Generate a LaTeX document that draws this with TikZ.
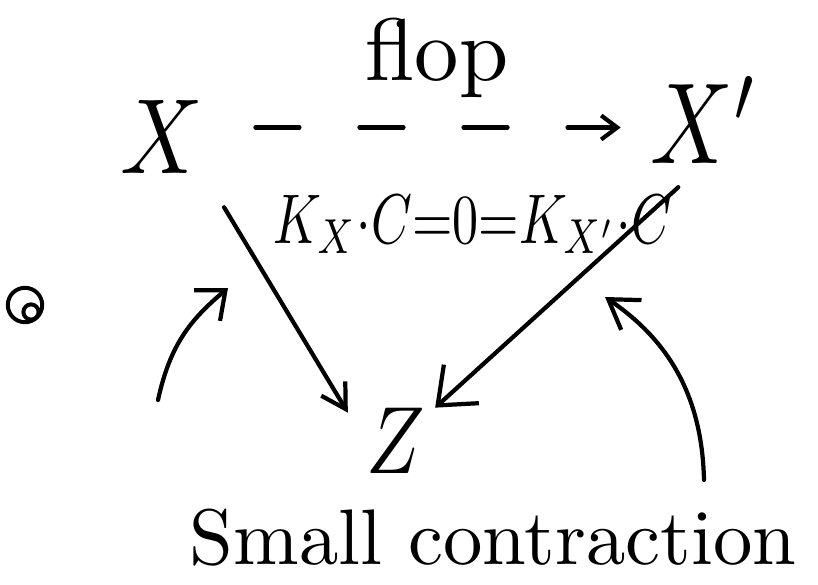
\documentclass[tikz,border=0pt]{standalone}
\usepackage{amsmath}
\usepackage{tikz}
\usetikzlibrary{arrows.meta, positioning, calc}

\begin{document}
\begin{tikzpicture}[
      x=0.025cm, y=-0.025cm, line cap=round, line join=round,
      >={Straight Barb[length=0.6cm, width=0.7cm]},
      lbl/.style={inner sep=0pt, outer sep=0pt},
      arr/.style={->, line width=3pt},
      dasharr/.style={arr, dash pattern=on 1.1cm off 1.5cm}
    ]
      \useasboundingbox (0,0) rectangle (818,585);
      \node[lbl, xscale=6.5, yscale=7.6, anchor=base] (X)  at (162,173) {$X$};
      \node[lbl, xscale=6.5, yscale=8.2, anchor=base] (Xp) at (705,163) {$X'$};
      \node[lbl, xscale=5.5, yscale=6.8, anchor=base] (Z)  at (396,473) {$Z$};
      \node[lbl, xscale=3.7, yscale=5, anchor=base west] (KC) at (273,243)
           {${K_X}{\cdot}C{=}0{=}K_{X'}{\cdot}C$};
      \node[lbl, scale=6.3, anchor=base] (flop)  at (437,80)  {flop};
      \node[lbl, scale=5.6, anchor=base] (small) at (493,564) {Small contraction};
      \draw[dasharr, >={Straight Barb[length=0.4cm, width=0.6cm]},
            shorten <=1.3cm, shorten >=0.75cm]
           ($(X.east)+(0,-9)$) -- ($(X.east -| Xp.west)+(0,-9)$);
      \draw[arr, shorten <=1cm] (X.south east) -- ($(Z.north west)+(-19,5)$);
      \draw[arr, >={Straight Barb[length=0.8cm, width=1.3cm]}, shorten <=0.9cm]
           (Xp.south) -- ($(Z.north east)+(10,0)$);
      \coordinate (la) at (158,400);
      \coordinate (lb) at (228,288);
      \coordinate (ra) at (704,480);
      \coordinate (rb) at (605,297);
      \draw[arr, >={Straight Barb[length=0.6cm, width=1cm]}]
           (la) .. controls (170,345) and (190,320) .. (lb);
      \draw[arr, >={Straight Barb[length=0.7cm, width=0.9cm]}]
           (ra) .. controls (702,395) and (668,340) .. (rb);
      \draw[line width=2.8pt] (25,305) circle[radius=0.43cm];
      \draw[line width=2.8pt] (31,312) circle[radius=0.19cm];
    \end{tikzpicture}
\end{document}
